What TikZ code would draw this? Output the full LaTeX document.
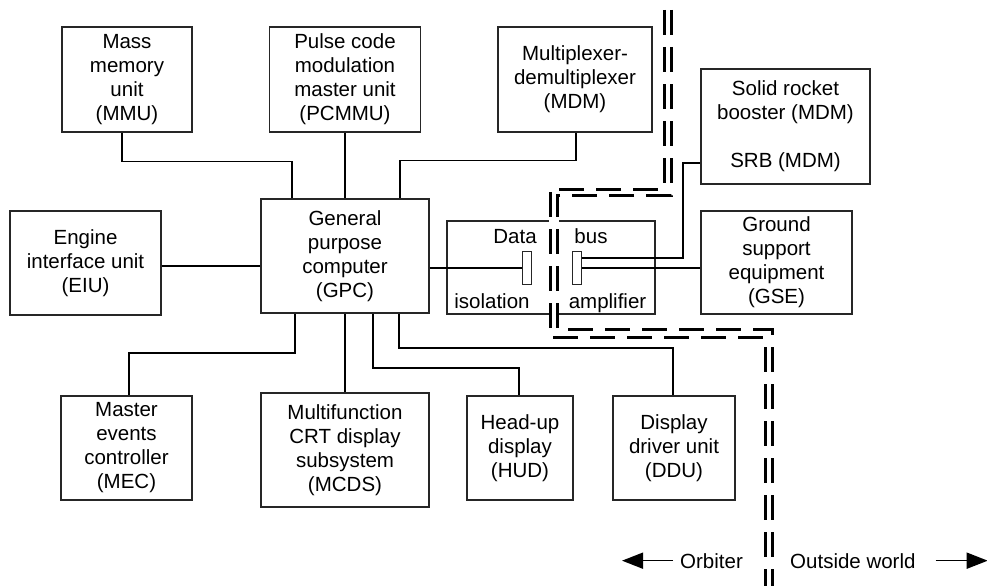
\documentclass[tikz,border=0pt]{standalone}
\usepackage{fontspec}
\setmainfont{Liberation Sans}
\usetikzlibrary{arrows.meta}
\tikzset{
  unit/.style={draw=black!85, line width=1.2pt, inner sep=0pt, align=center,
    font=\fontsize{20.5pt}{24pt}\selectfont},
  lbl/.style={inner sep=0pt, font=\fontsize{20.5pt}{24pt}\selectfont},
  bar/.style={draw=black!85, line width=1pt, inner sep=0pt, minimum width=9pt, minimum height=33pt},
  wire/.style={line width=1.6pt, black},
  border/.style={line width=3pt, black, dash pattern=on 25pt off 12pt},
  dirarrow/.style={line width=1.6pt, -{Triangle[length=21pt,width=16pt]}}
}
\begin{document}
\begin{tikzpicture}[x=1pt,y=-1pt]
\useasboundingbox (0,0) rectangle (987,586);
% boxes
\node[unit, minimum width=130pt, minimum height=105pt] (MMU) at (127,79.5) {Mass\\memory\\unit\\(MMU)};
\node[unit, minimum width=151pt, minimum height=105pt] (PCMMU) at (345,79.5) {Pulse code\\modulation\\master unit\\(PCMMU)};
\node[unit, minimum width=154pt, minimum height=105pt] (MDM) at (575,79.5) {Multiplexer-\\demultiplexer\\(MDM)};
\node[unit, minimum width=169pt, minimum height=115pt] (SRB) at (785.5,126.5) {Solid rocket\\booster (MDM)\\[24pt]SRB (MDM)};
\node[unit, minimum width=151pt, minimum height=104pt] (EIU) at (85.5,263) {Engine\\interface unit\\(EIU)};
\node[unit, minimum width=168pt, minimum height=114pt] (GPC) at (345,256) {General\\purpose\\computer\\(GPC)};
\node[unit, minimum width=208pt, minimum height=93pt] (DBIA) at (551,267.5) {};
\node[unit, minimum width=151pt, minimum height=103pt] (GSE) at (776.5,262.5) {Ground\\support\\equipment\\(GSE)};
\node[unit, minimum width=131pt, minimum height=104pt] (MEC) at (126.5,448) {Master\\events\\controller\\(MEC)};
\node[unit, minimum width=168pt, minimum height=114pt] (MCDS) at (345,450) {Multifunction\\CRT display\\subsystem\\(MCDS)};
\node[unit, minimum width=106pt, minimum height=104pt] (HUD) at (520,448) {Head-up\\display\\(HUD)};
\node[unit, minimum width=122pt, minimum height=104pt] (DDU) at (674,448) {Display\\driver unit\\(DDU)};
% data bus isolation amplifier internals
\node[bar] (lbar) at (526.5,268) {};
\node[bar] (rbar) at (576.5,268) {};
\node[lbl, anchor=base] (tdata) at (515,243) {Data};
\node[lbl, anchor=base] (tbus) at (591,243) {bus};
\node[lbl, anchor=base] (tiso) at (492,308) {isolation};
\node[lbl, anchor=base] (tamp) at (607.5,308) {amplifier};
% bend points
\coordinate (e1) at (161,266);
\coordinate (s1) at (683,163);
\coordinate (m1) at (129,353);
\coordinate (h1) at (519,368);
\coordinate (d1) at (673,348);
% connectors
\draw[wire] ([xshift=-5pt]MMU.south) -- ++(0,29) -| ([xshift=-53pt]GPC.north);
\draw[wire] (PCMMU.south) -- (PCMMU.south |- GPC.north);
\draw[wire] ([xshift=55pt]GPC.north) -- ++(0,-38) -| ([xshift=1pt]MDM.south);
\draw[wire] (EIU.east |- e1) -- (GPC.west |- e1);
\draw[wire] (GPC.east |- lbar) -- (lbar.west);
\draw[wire] (rbar.east) -- (rbar.east -| GSE.west);
\draw[wire] ([yshift=10pt]rbar.east) -| (s1) -- (s1 -| SRB.west);
\draw[wire] ([xshift=-50pt]GPC.south) |- (m1) -- (m1 |- MEC.north);
\draw[wire] (GPC.south) -- (MCDS.north);
\draw[wire] ([xshift=28pt]GPC.south) |- (h1) -- (h1 |- HUD.north);
\draw[wire] ([xshift=54pt]GPC.south) |- (d1) -- (d1 |- DDU.north);
% boundary
\fill[white] (548.5,216) rectangle (558.5,319);
\draw[border] (664,10) -- (664,189) -- (550,189) -- (550,337) -- (765,337) -- (765,586);
\draw[border] (671,10) -- (671,195) -- (557,195) -- (557,329) -- (772,329) -- (772,586);
% bottom labels
\node[lbl, anchor=base west] (orb) at (680,568) {Orbiter};
\node[lbl, anchor=base west] (out) at (790,568) {Outside world};
\draw[dirarrow] ([xshift=-7pt]orb.west) -- ++(-51,0);
\draw[dirarrow] ([xshift=20pt]out.east) -- ++(52,0);
\end{tikzpicture}
\end{document}
